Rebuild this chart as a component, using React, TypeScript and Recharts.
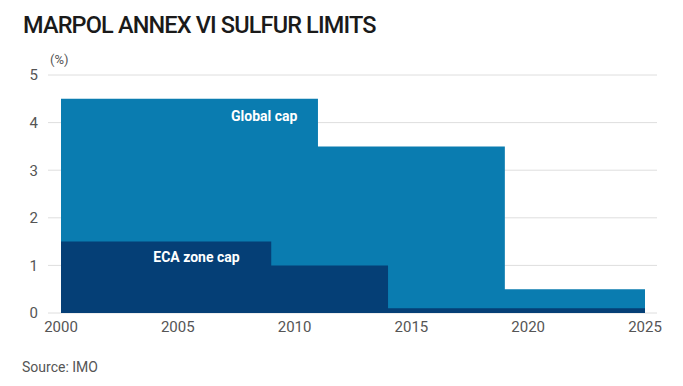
import { ComposedChart, Area, XAxis, YAxis, CartesianGrid, ReferenceDot } from "recharts";

// step points (value holds until the next year listed)
const years = [2000, 2009, 2011, 2014, 2019, 2025];
const globalCap = [4.5, 4.5, 3.5, 3.5, 0.5, 0.5];
const ecaCap = [1.5, 1.0, 1.0, 0.1, 0.1, 0.1];
const xTicks = [2000, 2005, 2010, 2015, 2020, 2025];
const yTicks = [0, 1, 2, 3, 4, 5];

const data = years.map((year, i) => ({ year, global: globalCap[i], eca: ecaCap[i] }));

const FONT = "Roboto, 'Noto Sans', sans-serif";
const GLOBAL_COLOR = "#0a7cb0";
const ECA_COLOR = "#053f76";

export default function App() {
  return (
    <div style={{ position: "absolute", left: 0, top: 0, width: 683, height: 386, background: "#fff", fontFamily: FONT }}>
      <div style={{ position: "absolute", left: 23, top: 11, fontSize: 23.5, fontWeight: 500, color: "#1a1a1a", letterSpacing: -0.85, whiteSpace: "nowrap" }}>
        MARPOL ANNEX VI SULFUR LIMITS
      </div>
      <div style={{ position: "absolute", left: 50, top: 52, fontSize: 13, color: "#555" }}>(%)</div>

      <div style={{ position: "absolute", left: 0, top: 0 }}>
        <ComposedChart width={683} height={343} data={data} margin={{ top: 75, right: 26, left: 0, bottom: 0 }}>
          <CartesianGrid vertical={false} stroke="#dedede" />
          <XAxis
            dataKey="year"
            type="number"
            domain={[2000, 2025]}
            ticks={xTicks}
            padding={{ left: 13, right: 12 }}
            axisLine={false}
            tickLine={false}
            tick={{ fill: "#555", fontSize: 15, fontFamily: FONT }}
          />
          <YAxis
            domain={[0, 5]}
            ticks={yTicks}
            width={48}
            axisLine={false}
            tickLine={false}
            tickMargin={4}
            tick={{ fill: "#555", fontSize: 15, fontFamily: FONT }}
          />
          <Area type="stepAfter" dataKey="global" stroke="none" fill={GLOBAL_COLOR} fillOpacity={1} isAnimationActive={false} />
          <Area type="stepAfter" dataKey="eca" stroke="none" fill={ECA_COLOR} fillOpacity={1} isAnimationActive={false} />
          <ReferenceDot
            x={2008.7}
            y={4.14}
            r={0}
            ifOverflow="visible"
            label={{ value: "Global cap", position: "center", fill: "#fff", fontSize: 14, fontWeight: 700, fontFamily: FONT }}
          />
          <ReferenceDot
            x={2005.8}
            y={1.18}
            r={0}
            ifOverflow="visible"
            label={{ value: "ECA zone cap", position: "center", fill: "#fff", fontSize: 14, fontWeight: 700, fontFamily: FONT }}
          />
        </ComposedChart>
      </div>

      <div style={{ position: "absolute", left: 22, top: 359, fontSize: 14, color: "#555" }}>Source: IMO</div>
    </div>
  );
}
